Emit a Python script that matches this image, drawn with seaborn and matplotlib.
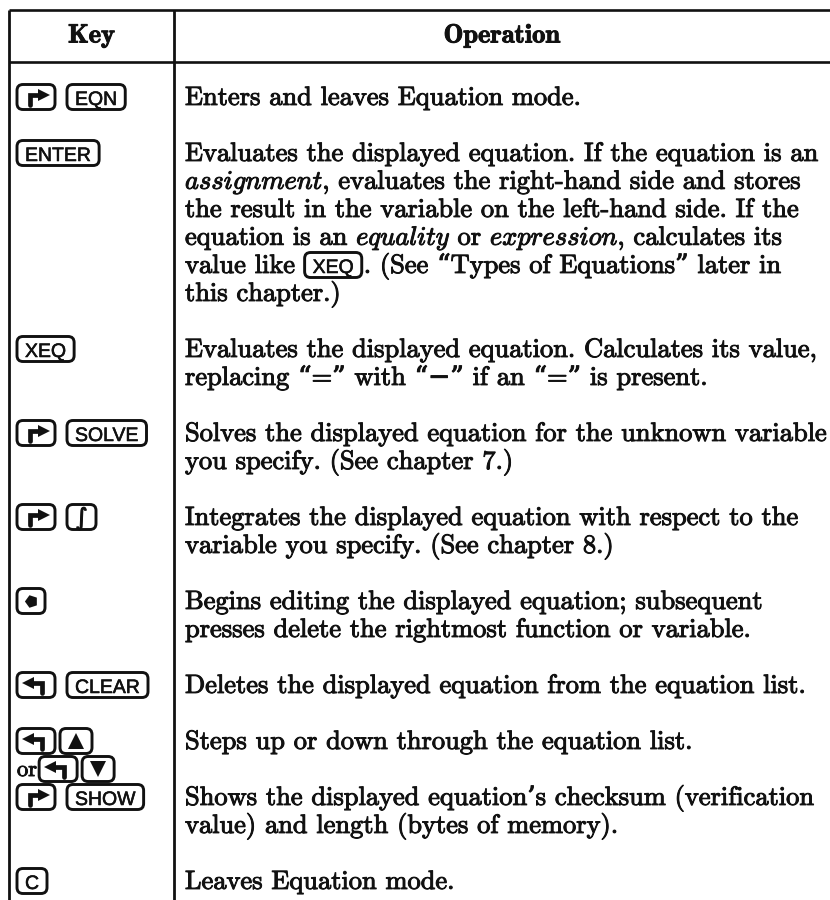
import matplotlib.pyplot as plt
import matplotlib.patheffects as pe
import seaborn as sns
from matplotlib.patches import FancyBboxPatch

# table content
header = ["Key", "Operation"]

# key sequences per row; a row may have several key lines
# RS / LS = shift keys, INT = integral, BKSP = backspace, UP / DOWN = arrows
keys = [
    [["RS", "EQN"]],
    [["ENTER"]],
    [["XEQ"]],
    [["RS", "SOLVE"]],
    [["RS", "INT"]],
    [["BKSP"]],
    [["LS", "CLEAR"]],
    [["LS", "UP"], ["or", "LS", "DOWN"]],
    [["RS", "SHOW"]],
    [["C"]],
]

ops = [
    ["Enters and leaves Equation mode."],
    ["Evaluates the displayed equation. If the equation is an",
     "$assignment$, evaluates the right-hand side and stores",
     "the result in the variable on the left-hand side. If the",
     "equation is an $equality$ or $expression$, calculates its",
     "value like [XEQ]. (See “Types of Equations” later in",
     "this chapter.)"],
    ["Evaluates the displayed equation. Calculates its value,",
     "replacing “=” with “−” if an “=” is present."],
    ["Solves the displayed equation for the unknown variable",
     "you specify. (See chapter 7.)"],
    ["Integrates the displayed equation with respect to the",
     "variable you specify. (See chapter 8.)"],
    ["Begins editing the displayed equation; subsequent",
     "presses delete the rightmost function or variable."],
    ["Deletes the displayed equation from the equation list."],
    ["Steps up or down through the equation list."],
    ["Shows the displayed equation’s checksum (verification",
     "value) and length (bytes of memory)."],
    ["Leaves Equation mode."],
]

sns.set_theme(style="white")
plt.rcParams['font.family'] = ['cmr10', 'DejaVu Serif']
plt.rcParams['mathtext.fontset'] = 'cm'
plt.rcParams['axes.unicode_minus'] = False

# layout (pixels)
W, H = 830, 900
left, divider = 9, 174
top, head_bot = 10, 62
key_x, text_x = 17, 185
first_line, line_h = 97, 28
key_h, key_pad = 25, 8
key_font = ['Liberation Sans', 'DejaVu Sans']
key_fs = 14
ink = '#111111'
heavy = [pe.withStroke(linewidth=0.7, foreground=ink)]

fig = plt.figure(figsize=(W / 100, H / 100), dpi=100)
ax = fig.add_axes([0, 0, 1, 1])
ax.set_xlim(0, W)
ax.set_ylim(H, 0)
ax.axis('off')
renderer = fig.canvas.get_renderer()

# size the body text so the widest line spans the column like the original
probe = ax.text(0, 0, ops[1][0], fontsize=10)
body_fs = 10 * 633 / probe.get_window_extent(renderer).width
probe.remove()
px = body_fs * 100 / 72  # em in pixels


def width_of(t):
    return t.get_window_extent(renderer).width


def body_text(x, y, s, **kw):
    return ax.text(x, y, s, fontsize=kw.pop('fontsize', body_fs), va='baseline',
                   color=ink, path_effects=heavy, **kw)


def key_box(x, yc, w):
    box = FancyBboxPatch((x, yc - key_h / 2), w, key_h,
                         boxstyle="round,pad=0,rounding_size=6",
                         fc='white', ec=ink, lw=2.1, zorder=3)
    ax.add_patch(box)


def draw_key(x, yc, label):
    """draw one key cap with its left edge at x, returns right edge"""
    if label in ("RS", "LS"):
        w = 38
        key_box(x, yc, w)
        xc = x + w / 2
        s = 1 if label == "RS" else -1
        ax.plot([xc - 6 * s, xc - 6 * s, xc + 5 * s], [yc + 8, yc - 2, yc - 2],
                color=ink, lw=3.4, solid_joinstyle='miter', zorder=4)
        ax.plot(xc + 8 * s, yc - 2, marker='>' if s == 1 else '<', ms=9,
                color=ink, mew=0, zorder=4)
        return x + w
    if label in ("UP", "DOWN"):
        w = 32
        key_box(x, yc, w)
        ax.plot(x + w / 2, yc, marker='^' if label == "UP" else 'v', ms=11,
                color=ink, mew=0, zorder=4)
        return x + w
    if label == "BKSP":
        w = 28
        key_box(x, yc, w)
        ax.plot(x + w / 2, yc, marker=(5, 0, 90), ms=9.5, color=ink, mew=0, zorder=4)
        return x + w
    if label == "INT":
        w = 29
        key_box(x, yc, w)
        ax.text(x + w / 2, yc + 1, "∫", fontfamily='DejaVu Sans', fontsize=17,
                ha='center', va='center', color=ink, zorder=4, path_effects=heavy)
        return x + w
    if label == "or":
        t = body_text(x, yc + 7, "or", fontsize=body_fs * 0.85)
        return x + width_of(t) - 3
    t = ax.text(x + key_pad, yc + key_fs * 100 / 72 * 0.36 + 1, label,
                fontfamily=key_font, fontsize=key_fs, va='baseline',
                color=ink, zorder=4,
                path_effects=[pe.withStroke(linewidth=0.4, foreground=ink)])
    w = width_of(t) + 2 * key_pad
    key_box(x, yc, w)
    return x + w


def draw_line(x, yc, s):
    """body text line, with an inline [KEY] if present"""
    base = yc + 0.3 * px
    if "[" in s:
        pre, rest = s.split("[", 1)
        label, post = rest.split("]", 1)
        t = body_text(x, base, pre)
        x2 = draw_key(x + width_of(t) + 1, yc, label)
        body_text(x2 + 2, base, post)
    else:
        body_text(x, base, s)


# rules
ax.hlines([top, head_bot], left, W, color=ink, lw=1.9)
ax.vlines([left, divider], top, H, color=ink, lw=2.0)

# header
hy = (top + head_bot) / 2
for cx, label in zip([(left + divider) / 2, (divider + W) / 2], header):
    ax.text(cx, hy, label, fontfamily=['cmb10', 'DejaVu Serif'], fontsize=body_fs,
            ha='center', va='center', color=ink, path_effects=heavy)

# rows
k = 0
for key_lines, op_lines in zip(keys, ops):
    gap = 5 if any(lab in ("UP", "DOWN") for kl in key_lines for lab in kl) else 12
    for j, kl in enumerate(key_lines):
        yc = first_line + line_h * (k + j)
        x = key_x
        for lab in kl:
            x = draw_key(x, yc, lab) + gap
    for j, s in enumerate(op_lines):
        draw_line(text_x, first_line + line_h * (k + j), s)
    k += len(op_lines) + 1

fig.savefig("out.png", dpi=100, facecolor='white')
